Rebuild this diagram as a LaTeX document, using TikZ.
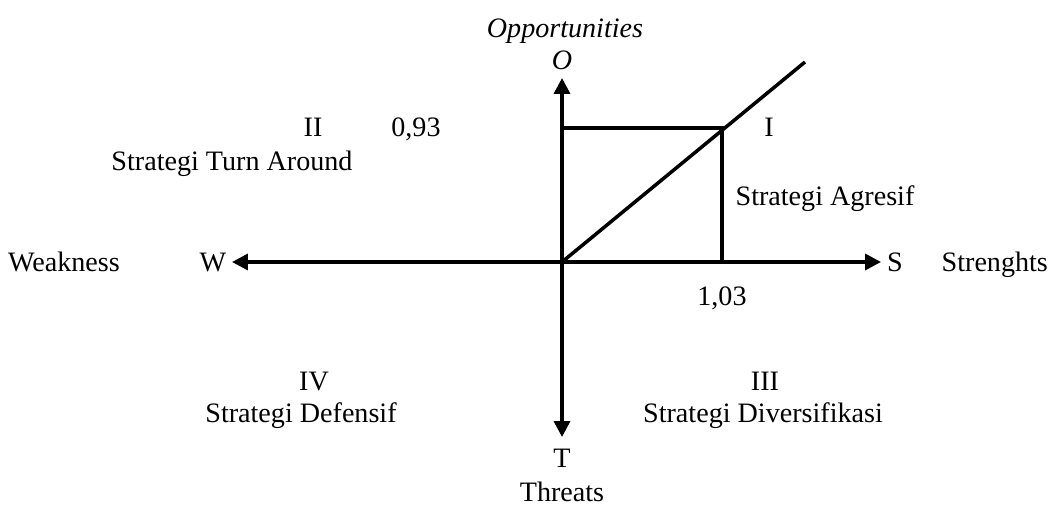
\documentclass[tikz,border=0pt]{standalone}
\usepackage{fontspec}
\setmainfont{Liberation Serif}
\usetikzlibrary{arrows.meta}
\begin{document}
\begin{tikzpicture}[x=0.02cm,y=-0.02cm,
  lbl/.style={inner sep=1pt,text height=1.5ex,text depth=.3ex,yshift=-2.5pt,font=\fontsize{16}{18}\selectfont},
  axis/.style={line width=2pt,-{Triangle[length=9pt,width=9pt]}},
  box/.style={line width=2pt}]
\useasboundingbox (0,0) rectangle (1051,506);
% centre, axis ends and corner
\coordinate (c) at (562,262);
\coordinate (oend) at (562,78);
\coordinate (tend) at (562,437);
\coordinate (wend) at (232,262);
\coordinate (send) at (881,262);
\coordinate (p) at (722,128);
\coordinate (e) at (805,62);
% axis labels
\node[lbl] (O) at (562,60) {\itshape O};
\node[lbl] (opp) at (565,28) {\itshape Opportunities};
\node[lbl] (T) at (562,458) {T};
\node[lbl] (thr) at (562,492) {Threats};
\node[lbl] (W) at (213,262) {W};
\node[lbl,anchor=west] (weak) at (6,262) {Weakness};
\node[lbl] (S) at (895,262) {S};
\node[lbl,anchor=east] (str) at (1050,262) {Strenghts};
% axes
\draw[axis] (c) -- (oend);
\draw[axis] (c) -- (tend);
\draw[axis] (c) -- (wend);
\draw[axis] (c) -- (send);
% square and diagonal
\draw[box] (c |- p) -- (p) -- (p |- c);
\draw[box] (c) -- (e);
% values
\node[lbl] (v1) at (416,127) {0,93};
\node[lbl] (v2) at (722,296) {1,03};
% quadrants
\node[lbl] (q1) at (769,127) {I};
\node[lbl] (s1) at (825,196) {Strategi Agresif};
\node[lbl] (q2) at (313,127) {II};
\node[lbl] (s2) at (232,161) {Strategi Turn Around};
\node[lbl] (q3) at (765,381) {III};
\node[lbl] (s3) at (763,413) {Strategi Diversifikasi};
\node[lbl] (q4) at (314,381) {IV};
\node[lbl] (s4) at (301,413) {Strategi Defensif};
\end{tikzpicture}
\end{document}
